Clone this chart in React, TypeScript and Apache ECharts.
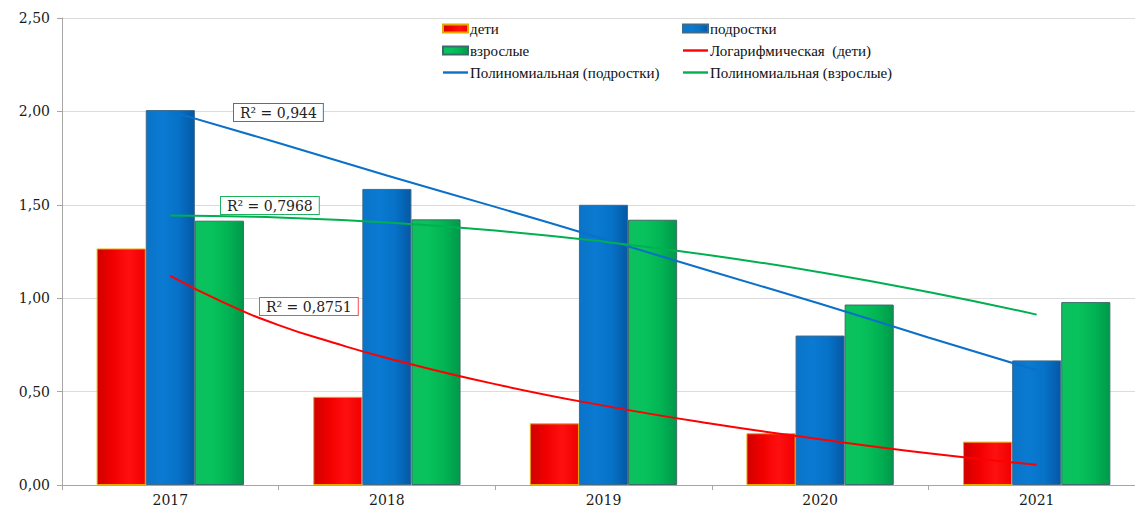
import React, { useEffect, useRef } from "react";
import * as echarts from "echarts";

const categories = ["2017", "2018", "2019", "2020", "2021"];
const deti = [1.266, 0.472, 0.33, 0.277, 0.232];
const podrostki = [2.007, 1.585, 1.5, 0.8, 0.667];
const vzroslye = [1.415, 1.422, 1.42, 0.966, 0.979];

// trend lines (x: 1 = 2017 ... 5 = 2021)
const trendDetiX = [1, 1.25, 1.5, 1.75, 2, 2.5, 3, 3.5, 4, 4.5, 5];
const trendDetiY = [1.12, 0.975, 0.856, 0.763, 0.68, 0.54, 0.425, 0.328, 0.245, 0.17, 0.108];
const trendPodrX = [1, 1.5, 2, 2.5, 3, 3.5, 4, 4.5, 5];
const trendPodrY = [2.0, 1.831, 1.657, 1.489, 1.317, 1.143, 0.97, 0.79, 0.614];
const trendVzrX = [1, 1.5, 2, 2.5, 3, 3.5, 4, 4.5, 5];
const trendVzrY = [1.443, 1.432, 1.405, 1.362, 1.303, 1.229, 1.139, 1.033, 0.912];

const r2Labels = ["R² = 0,944", "R² = 0,7968", "R² = 0,8751"];

const FONT = "DejaVu Serif";
const LEGEND_FONT = "Liberation Serif";
const LINE_ICON = "path://M0,0 L26,0 L26,2.5 L0,2.5 Z";

function pairs(xs: number[], ys: number[]) {
  return xs.map((x, i) => [x, ys[i]]);
}

function hGrad(stops: string[]) {
  return new echarts.graphic.LinearGradient(
    0, 0, 1, 0,
    stops.map((c, i) => ({ offset: i / (stops.length - 1), color: c }))
  );
}

export default function App() {
  const ref = useRef<HTMLDivElement>(null);
  useEffect(() => {
    if (!ref.current) return;
    const chart = echarts.init(ref.current, undefined, { renderer: "svg" });
    const legendText = {
      color: "#111",
      fontFamily: LEGEND_FONT,
      fontSize: 15,
      lineHeight: 14,
      padding: [0, 0, 0, -3],
    };
    const r2Style = (text: string, border: string) => ({
      text,
      fill: "#222",
      font: `14px "${FONT}"`,
      backgroundColor: "#fff",
      borderColor: border,
      borderWidth: 1,
      padding: [2, 6, 1, 6],
    });
    const legendCommon = {
      top: 16,
      orient: "vertical",
      itemGap: 7,
      itemWidth: 25,
      itemHeight: 8,
      textStyle: legendText,
    };
    chart.setOption({
      animation: false,
      backgroundColor: "#fff",
      grid: { left: 62, right: 0, top: 18, bottom: 19, containLabel: false },
      legend: [
        {
          ...legendCommon,
          left: 437,
          data: [
            { name: "дети", icon: "rect" },
            { name: "взрослые", icon: "rect" },
            { name: "Полиномиальная (подростки)", icon: LINE_ICON },
          ],
        },
        {
          ...legendCommon,
          left: 677,
          data: [
            { name: "подростки", icon: "rect" },
            { name: "Логарифмическая  (дети)", icon: LINE_ICON },
            { name: "Полиномиальная (взрослые)", icon: LINE_ICON },
          ],
        },
      ],
      xAxis: [
        {
          type: "category",
          data: categories,
          boundaryGap: true,
          axisLine: { lineStyle: { color: "#a6a6a6", width: 1 } },
          axisTick: { show: true, length: 5, lineStyle: { color: "#a6a6a6" } },
          axisLabel: { color: "#1a1a1a", fontFamily: FONT, fontSize: 14, margin: 8 },
          splitLine: { show: false },
        },
        {
          type: "value",
          min: 0.5,
          max: 5.5,
          show: false,
        },
      ],
      yAxis: {
        type: "value",
        min: 0,
        max: 2.5,
        interval: 0.5,
        axisLine: { show: true, lineStyle: { color: "#a6a6a6" } },
        axisTick: { show: true, length: 5, lineStyle: { color: "#a6a6a6" } },
        axisLabel: {
          color: "#1a1a1a",
          fontFamily: FONT,
          fontSize: 14,
          margin: 12,
          formatter: (v: number) => v.toFixed(2).replace(".", ","),
        },
        splitLine: { lineStyle: { color: "#dcdcdc" } },
      },
      series: [
        {
          name: "дети",
          type: "bar",
          data: deti,
          barGap: "0%",
          barCategoryGap: "32%",
          itemStyle: {
            color: hGrad(["#d00000", "#f20000", "#ff1010", "#f00000"]),
            borderColor: "#e8a800",
            borderWidth: 1,
          },
        },
        {
          name: "подростки",
          type: "bar",
          data: podrostki,
          barGap: "0%",
          barCategoryGap: "32%",
          itemStyle: {
            color: hGrad(["#0a74c8", "#0a7ad2", "#0672c8", "#0558a4"]),
            borderColor: "#3f6a8a",
            borderWidth: 1,
          },
        },
        {
          name: "взрослые",
          type: "bar",
          data: vzroslye,
          barGap: "0%",
          barCategoryGap: "32%",
          itemStyle: {
            color: hGrad(["#0cc05e", "#08c25c", "#02b454", "#00994a"]),
            borderColor: "#3f6a6a",
            borderWidth: 1,
          },
        },
        {
          name: "Логарифмическая  (дети)",
          type: "line",
          xAxisIndex: 1,
          data: pairs(trendDetiX, trendDetiY),
          smooth: true,
          symbol: "none",
          lineStyle: { color: "#ff0000", width: 2 },
          itemStyle: { color: "#ff0000" },
          z: 5,
        },
        {
          name: "Полиномиальная (подростки)",
          type: "line",
          xAxisIndex: 1,
          data: pairs(trendPodrX, trendPodrY),
          smooth: true,
          symbol: "none",
          lineStyle: { color: "#0a70c8", width: 2 },
          itemStyle: { color: "#0a70c8" },
          z: 5,
        },
        {
          name: "Полиномиальная (взрослые)",
          type: "line",
          xAxisIndex: 1,
          data: pairs(trendVzrX, trendVzrY),
          smooth: true,
          symbol: "none",
          lineStyle: { color: "#00b050", width: 2 },
          itemStyle: { color: "#00b050" },
          z: 5,
        },
      ],
      graphic: [
        { type: "text", left: 233, top: 103, z: 100, style: r2Style(r2Labels[0], "#1f7fd0") },
        { type: "text", left: 220, top: 196, z: 100, style: r2Style(r2Labels[1], "#1fb060") },
        { type: "text", left: 259, top: 297, z: 100, style: r2Style(r2Labels[2], "#f05050") },
      ],
    });
    return () => chart.dispose();
  }, []);
  return (
    <div
      style={{
        position: "fixed",
        left: 0,
        top: 0,
        width: 1135,
        height: 507,
        overflow: "hidden",
        background: "#fff",
      }}
    >
      <div ref={ref} style={{ width: 1145, height: 507 }} />
    </div>
  );
}
